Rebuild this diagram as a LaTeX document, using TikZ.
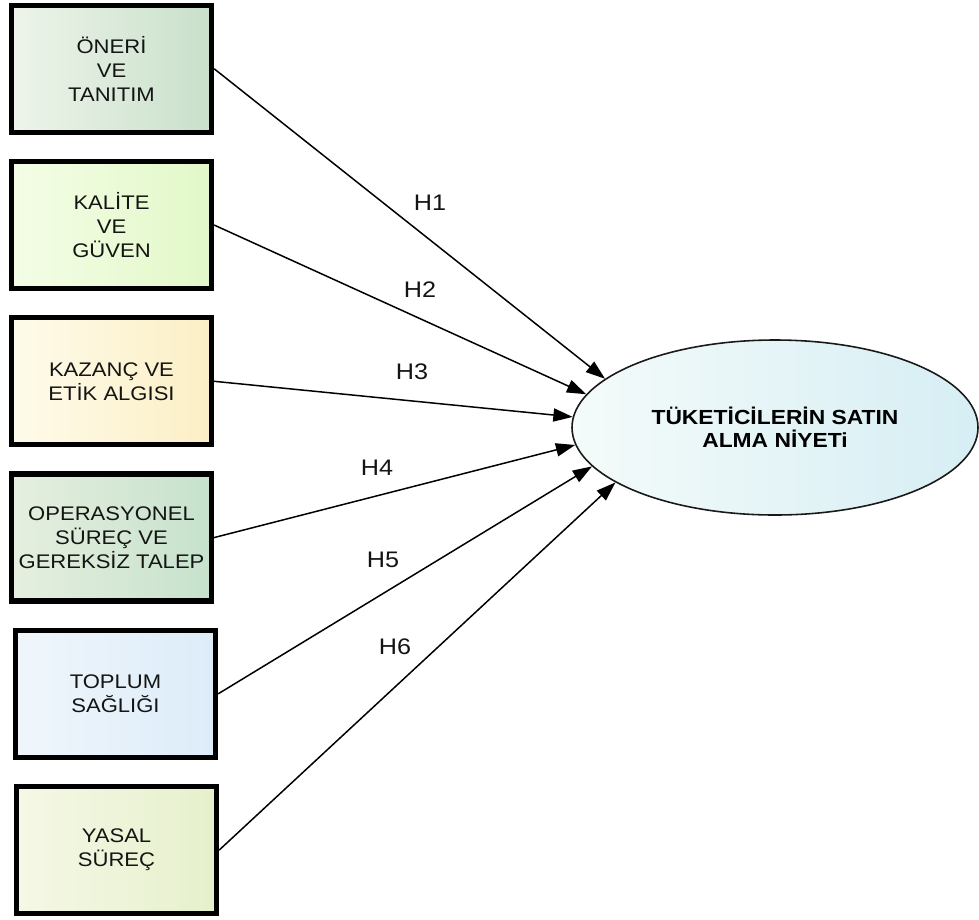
\documentclass[tikz,border=0pt]{standalone}
\usepackage{fontspec}
\newfontfamily\diafont[FakeStretch=1.12]{Liberation Sans}
\usepackage{tikz}
\usetikzlibrary{positioning}
\usetikzlibrary{arrows.meta}
\usetikzlibrary{shapes.geometric}

\definecolor{onerL}{HTML}{EEF4EA}
\definecolor{onerR}{HTML}{C9E0CB}
\definecolor{kaliL}{HTML}{F4FDE6}
\definecolor{kaliR}{HTML}{E2F8C8}
\definecolor{kazaL}{HTML}{FEFBEA}
\definecolor{kazaR}{HTML}{FCEFC6}
\definecolor{operL}{HTML}{E6EFDF}
\definecolor{operR}{HTML}{C6E2CC}
\definecolor{toplL}{HTML}{F0F6FB}
\definecolor{toplR}{HTML}{DCECF9}
\definecolor{yasaL}{HTML}{F5F8E6}
\definecolor{yasaR}{HTML}{E6F0CC}
\definecolor{niyeL}{HTML}{F4FBFA}
\definecolor{niyeR}{HTML}{D6EEF4}

\begin{document}
\begin{tikzpicture}[node distance=0.48cm]

\tikzstyle{factor}=[rectangle, line width=3pt, draw=black,
  minimum width=4cm, minimum height=2.54cm, align=center, text=black!92,
  font=\diafont\fontsize{11.2}{13.6}\selectfont]
\tikzstyle{intent}=[ellipse, line width=0.9pt, draw=black!90,
  minimum width=8.12cm, minimum height=3.5cm, inner sep=0pt, align=center,
  text=black, font=\diafont\bfseries\fontsize{11.6}{12.8}\selectfont]
\tikzstyle{hyp}=[text=black!92, font=\diafont\fontsize{12.8}{14}\selectfont]

\tikzstyle{arrhyp}=[-{Triangle[length=11pt, width=7.5pt]}, line width=0.85pt, draw=black]

\useasboundingbox (0,0) rectangle (19.58,-18.38);

\node [factor, left color=onerL, right color=onerR] (oneri) at (2.23,-1.375)
  {ÖNERİ\\VE\\TANITIM};
\node [factor, left color=kaliL, right color=kaliR, below=of oneri] (kalite)
  {KALİTE\\VE\\GÜVEN};
\node [factor, left color=kazaL, right color=kazaR, below=of kalite] (kazanc)
  {KAZANÇ VE\\ETİK ALGISI};
\node [factor, left color=operL, right color=operR, below=of kazanc] (operas)
  {OPERASYONEL\\SÜREÇ VE\\GEREKSİZ TALEP};
\node [factor, left color=toplL, right color=toplR, below=of operas, xshift=0.08cm] (toplum)
  {TOPLUM\\SAĞLIĞI};
\node [factor, left color=yasaL, right color=yasaR, below=of toplum, xshift=0.02cm] (yasal)
  {YASAL\\SÜREÇ};

\node [intent, left color=niyeL, right color=niyeR] (niyet) at (15.5,-8.55)
  {TÜKETİCİLERİN SATIN\\ALMA NİYETi};

\draw [arrhyp] (oneri.east) -- (niyet.164);
\draw [arrhyp] (kalite.east) -- (niyet.170.8);
\draw [arrhyp] (kazanc.east) -- (niyet.177);
\draw [arrhyp] (operas.east) -- (niyet.185);
\draw [arrhyp] (toplum.east) -- (niyet.192);
\draw [arrhyp] (yasal.east) -- (niyet.199);

\node [hyp] (h1) at (8.6,-4.06) {H1};
\node [hyp] (h2) at (8.4,-5.8) {H2};
\node [hyp] (h3) at (8.24,-7.44) {H3};
\node [hyp] (h4) at (7.54,-9.36) {H4};
\node [hyp] (h5) at (7.66,-11.2) {H5};
\node [hyp] (h6) at (7.9,-12.94) {H6};

\end{tikzpicture}
\end{document}
